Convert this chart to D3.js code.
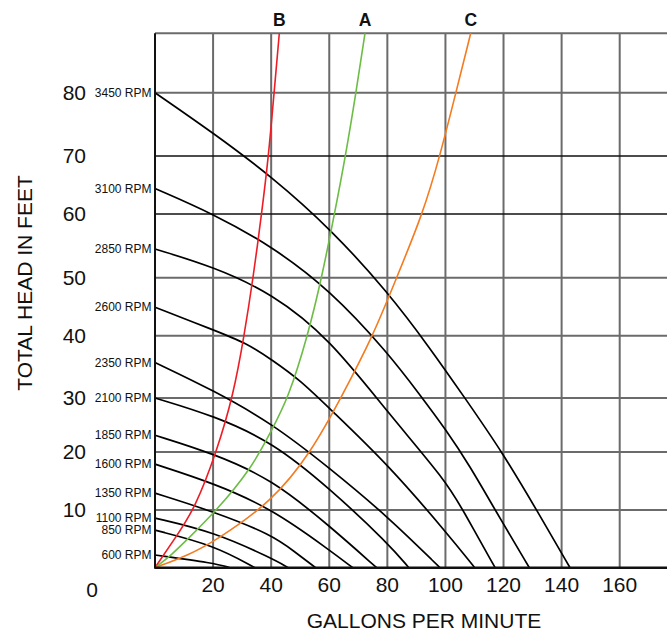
<!DOCTYPE html>
<html>
<head>
<meta charset="utf-8">
<script src="https://cdn.jsdelivr.net/npm/d3@7/dist/d3.min.js"></script>
<style>
  body { margin: 0; background: #fff; }
  svg { display: block; }
  text { font-family: Arial, "Liberation Sans", Helvetica, sans-serif; fill: #111; }
</style>
</head>
<body>
<svg id="chart" width="667" height="632"></svg>
<script>
// tick values
var gpmTicks = [20, 40, 60, 80, 100, 120, 140, 160, 180];
var headTicks = [10, 20, 30, 40, 50, 60, 70, 80, 90];

// pump curves, [gpm, head ft]
var rpmNames = ["3450 RPM", "3100 RPM", "2850 RPM", "2600 RPM", "2350 RPM", "2100 RPM",
                "1850 RPM", "1600 RPM", "1350 RPM", "1100 RPM", "850 RPM", "600 RPM"];
var rpm3450 = [[0,80],[20.2,73.6],[40.3,66.4],[60.6,57.6],[80.2,47.5],[94.7,38],[106.7,30],[119.8,19.8],[131.4,10],[142.9,0]];
var rpm3100 = [[0,64.4],[20.2,60],[40.3,54.9],[60.2,47.9],[80.3,37.2],[91.2,30.5],[100.2,24.1],[108.4,17.6],[117.1,10],[128.9,0]];
var rpm2850 = [[0,54.5],[20.2,51.7],[40.3,47.3],[60.2,39.5],[80.3,27.2],[100.2,15],[106,10],[117.1,0]];
var rpm2600 = [[0,44.9],[20.1,41],[31.6,38.8],[40.3,36.1],[49.9,32.9],[60.2,28],[80.3,17.8],[100.2,6.2],[110.1,0]];
var rpm2350 = [[0,35.7],[20.2,31.2],[40.3,25.3],[60.2,17.2],[80.3,8.8],[98.1,0]];
var rpm2100 = [[0,30],[20.3,26.7],[40.3,21.9],[60.2,13.7],[80.3,4.2],[87.4,0]];
var rpm1850 = [[0,23.1],[20.3,19.7],[40.3,15.3],[60.2,7.2],[76.3,0]];
var rpm1600 = [[0,17.9],[20.3,14.6],[40.3,10.2],[60.2,3],[68.1,0]];
var rpm1350 = [[0,12.9],[20.3,9.7],[40.3,5.7],[48,2.8],[55.3,0]];
var rpm1100 = [[0,8.6],[20.3,6.2],[40.3,1.6],[45.9,0]];
var rpm850  = [[0,6.5],[20.3,3.9],[34.4,0]];
var rpm600  = [[0,2.2],[20.3,0.8],[25.8,0]];
var pumpCurves = [rpm3450, rpm3100, rpm2850, rpm2600, rpm2350, rpm2100,
                  rpm1850, rpm1600, rpm1350, rpm1100, rpm850, rpm600];

// system curves
var systemNames = ["B", "A", "C"];
var systemB = [[0,0],[6.9,5.1],[13.8,10.3],[21.2,20],[27,30.5],[30.7,40],[33.8,50],[36.7,60],[39.1,70],[41,80],[42.8,90]];
var systemA = [[0,0],[5.7,2.2],[11.5,5.1],[20.6,9.6],[33.3,17.2],[40.2,24.1],[45.9,30],[52.6,40],[57.4,50],[61.8,60],[65.6,70],[69.2,80],[72.3,90]];
var systemC = [[0,0],[11.5,2.2],[20.3,4.5],[40.3,11.4],[53.9,20.1],[64,30],[75.1,40],[82.6,49.3],[92.2,60],[98.1,70],[103.6,80],[108.7,90]];
var systemCurves = [systemB, systemA, systemC];
var systemColors = ["#ee1d25", "#6cbd45", "#f47b20"];

var svg = d3.select("#chart");
var W = 667;

var x = d3.scaleLinear().domain([0, 160]).range([155, 619.7]);
// the printed grid is not evenly spaced, so follow it row by row
var y = d3.scaleLinear()
    .domain([0, 10, 20, 30, 40, 50, 60, 70, 80, 90])
    .range([567.7, 510, 452, 398, 335.7, 277.7, 214, 156, 92.7, 33.3]);

svg.append("rect").attr("width", W).attr("height", 632).attr("fill", "#fff");

// grid
svg.append("g").selectAll("line").data(gpmTicks).join("line")
    .attr("x1", d => x(d)).attr("x2", d => x(d))
    .attr("y1", y(90)).attr("y2", y(0))
    .attr("stroke", "#6b6b6b").attr("stroke-width", 2);

svg.append("g").selectAll("line").data(headTicks).join("line")
    .attr("x1", x(0)).attr("x2", W)
    .attr("y1", d => y(d)).attr("y2", d => y(d))
    .attr("stroke", d => (d == 60 || d == 70) ? "#111" : "#6b6b6b")
    .attr("stroke-width", d => (d == 60 || d == 70) ? 1.5 : 2);

// b-spline smooths out the reading noise in the hand-read points
var line = d3.line()
    .x(d => x(d[0]))
    .y(d => y(d[1]))
    .curve(d3.curveBasis);

// pump curves
svg.append("g").selectAll("path").data(pumpCurves).join("path")
    .attr("d", line)
    .attr("fill", "none")
    .attr("stroke", "#000")
    .attr("stroke-width", 1.7);

// system curves
svg.append("g").selectAll("path").data(systemCurves).join("path")
    .attr("d", line)
    .attr("fill", "none")
    .attr("stroke", (d, i) => systemColors[i])
    .attr("stroke-width", 1.6);

// axes lines
svg.append("line")
    .attr("x1", x(0)).attr("x2", x(0))
    .attr("y1", y(90)).attr("y2", y(0) + 1)
    .attr("stroke", "#111").attr("stroke-width", 2);
svg.append("line")
    .attr("x1", x(0)).attr("x2", W)
    .attr("y1", y(0)).attr("y2", y(0))
    .attr("stroke", "#111").attr("stroke-width", 2.5);

// rpm labels
svg.append("g").selectAll("text").data(pumpCurves).join("text")
    .attr("x", 151.5)
    .attr("y", d => y(d[0][1]))
    .attr("dy", "0.35em")
    .attr("text-anchor", "end")
    .attr("font-size", 12)
    .text((d, i) => rpmNames[i]);

// curve letters
svg.append("g").selectAll("text").data(systemCurves).join("text")
    .attr("x", d => x(d[d.length - 1][0]))
    .attr("y", 26)
    .attr("text-anchor", "middle")
    .attr("font-size", 17.5)
    .attr("font-weight", "bold")
    .text((d, i) => systemNames[i]);

// tick labels
svg.append("g").selectAll("text").data(headTicks.filter(d => d <= 80)).join("text")
    .attr("x", 86)
    .attr("y", d => y(d))
    .attr("dy", "0.35em")
    .attr("text-anchor", "end")
    .attr("font-size", 21)
    .text(d => d);

svg.append("g").selectAll("text").data(gpmTicks.filter(d => d <= 160)).join("text")
    .attr("x", d => x(d))
    .attr("y", 592)
    .attr("text-anchor", "middle")
    .attr("font-size", 21)
    .text(d => d);

svg.append("text")
    .attr("x", 92).attr("y", 597)
    .attr("text-anchor", "middle")
    .attr("font-size", 21)
    .text("0");

// axis titles
svg.append("text")
    .attr("x", 424).attr("y", 628)
    .attr("text-anchor", "middle")
    .attr("font-size", 21)
    .text("GALLONS PER MINUTE");

svg.append("text")
    .attr("transform", "translate(32,283) rotate(-90)")
    .attr("text-anchor", "middle")
    .attr("font-size", 21)
    .text("TOTAL HEAD IN FEET");
</script>
</body>
</html>
